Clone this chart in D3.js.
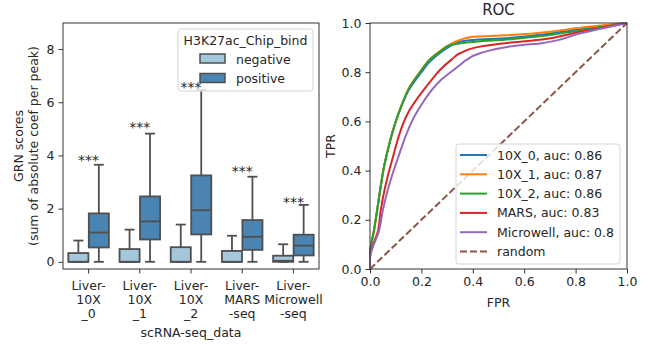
<html>
  <head>
    <meta charset="utf-8">
    <title>GRN scores and ROC</title>
    <script type="text/javascript" src="https://cdn.jsdelivr.net/npm/d3@7/dist/d3.min.js"></script>
    <style>
      body { margin: 0; background: #fff; }
      text { font-family: "DejaVu Sans", sans-serif; fill: #262626; }
    </style>
  </head>
  <body>
    <svg></svg>
    <script>
      'use strict';

      // ---- left panel data (box stats: [low whisker, q1, median, q3, high whisker])
      let categories = ["Liver-\n10X\n_0", "Liver-\n10X\n_1", "Liver-\n10X\n_2",
        "Liver-\nMARS\n-seq", "Liver-\nMicrowell\n-seq"];
      let hues = ["negative", "positive"];
      let negBoxes = [
        [0, 0, 0, 0.33, 0.80],
        [0, 0, 0, 0.48, 1.21],
        [0, 0, 0, 0.55, 1.40],
        [0, 0, 0, 0.41, 0.98],
        [0, 0, 0.04, 0.23, 0.66]
      ];
      let posBoxes = [
        [0, 0.54, 1.10, 1.82, 3.65],
        [0, 0.84, 1.52, 2.46, 4.82],
        [0, 1.03, 1.94, 3.25, 6.47],
        [0, 0.45, 0.94, 1.57, 3.20],
        [0, 0.24, 0.61, 1.02, 2.14]
      ];
      // height (in data units) of the "***" marks
      let starLevels = [3.96, 5.17, 6.70, 3.52, 2.37];
      let yTicksLeft = [0, 2, 4, 6, 8];

      // ---- right panel data (ROC curves)
      let rocNames = ["10X_0, auc: 0.86", "10X_1, auc: 0.87", "10X_2, auc: 0.86",
        "MARS, auc: 0.83", "Microwell, auc: 0.8"];
      let fpr10x0 = [0, 0, 0.016, 0.028, 0.06, 0.116, 0.155, 0.2, 0.232, 0.272, 0.31, 0.35, 0.402, 0.525, 0.661, 0.818, 1];
      let tpr10x0 = [0, 0.06, 0.159, 0.24, 0.443, 0.646, 0.735, 0.80, 0.842, 0.878, 0.905, 0.924, 0.931, 0.938, 0.952, 0.975, 1];
      let fpr10x1 = [0, 0, 0.016, 0.028, 0.06, 0.116, 0.155, 0.2, 0.232, 0.272, 0.31, 0.35, 0.402, 0.525, 0.661, 0.818, 1];
      let tpr10x1 = [0, 0.06, 0.159, 0.24, 0.443, 0.646, 0.742, 0.81, 0.852, 0.886, 0.912, 0.931, 0.944, 0.95, 0.96, 0.981, 1];
      let fpr10x2 = [0, 0, 0.016, 0.028, 0.06, 0.116, 0.155, 0.2, 0.232, 0.272, 0.31, 0.35, 0.42, 0.525, 0.661, 0.818, 1];
      let tpr10x2 = [0, 0.06, 0.159, 0.24, 0.443, 0.646, 0.74, 0.808, 0.85, 0.883, 0.91, 0.917, 0.925, 0.932, 0.946, 0.97, 1];
      let fprMars = [0, 0, 0.032, 0.042, 0.086, 0.154, 0.239, 0.272, 0.316, 0.35, 0.428, 0.525, 0.661, 0.818, 1];
      let tprMars = [0, 0.05, 0.159, 0.24, 0.443, 0.646, 0.768, 0.809, 0.85, 0.877, 0.904, 0.918, 0.932, 0.965, 1];
      let fprMicro = [0, 0, 0.036, 0.05, 0.106, 0.187, 0.28, 0.35, 0.375, 0.428, 0.595, 0.661, 0.818, 1];
      let tprMicro = [0, 0.04, 0.159, 0.24, 0.443, 0.646, 0.772, 0.829, 0.85, 0.877, 0.911, 0.917, 0.958, 1];
      let rocTicks = [0, 0.2, 0.4, 0.6, 0.8, 1.0];

      window.onload = function () {
        let w = 648;
        let h = 347;
        let svg = d3.select("svg").attr("width", w).attr("height", h);

        let hueColors = ["#a4c7dc", "#4a84b2"];
        let edge = "#4f4f4f";
        let fs = 12.5;

        // ================= left: box plot =================
        let L = { x0: 63, x1: 319, y0: 23, y1: 269 };
        let x = d3.scaleBand().domain(d3.range(categories.length)).range([L.x0, L.x1]);
        let y = d3.scaleLinear().domain([-0.27, 8.98]).range([L.y1, L.y0]);
        let boxW = x.bandwidth() * 0.4 * 0.98;

        let left = svg.append("g");

        // y axis
        let yAxis = left.append("g")
          .attr("transform", "translate(" + L.x0 + ",0)")
          .call(d3.axisLeft(y).tickValues(yTicksLeft).tickSize(4.5).tickPadding(4));
        // x axis
        let xAxis = left.append("g")
          .attr("transform", "translate(0," + L.y1 + ")")
          .call(d3.axisBottom(x).tickSize(4.5).tickFormat(""));

        [yAxis, xAxis].forEach(function (a) {
          a.select(".domain").remove();
          a.selectAll("line").attr("stroke", "#333");
          a.selectAll("text").style("font-size", fs + "px").attr("fill", "#262626");
        });

        // multi-line category labels
        categories.forEach(function (c, i) {
          let t = left.append("text")
            .attr("x", x(i) + x.bandwidth() / 2)
            .attr("y", 290)
            .attr("text-anchor", "middle")
            .style("font-size", fs + "px");
          c.split("\n").forEach(function (line, j) {
            t.append("tspan").attr("x", x(i) + x.bandwidth() / 2)
              .attr("dy", j === 0 ? 0 : 14).text(line);
          });
        });

        function drawBoxes(stats, hueIdx) {
          let off = (hueIdx === 0 ? -1 : 1) * x.bandwidth() * 0.2;
          let g = left.selectAll(null).data(stats).enter().append("g");
          let cx = function (d, i) { return x(i) + x.bandwidth() / 2 + off; };
          // whiskers
          g.append("line")
            .attr("x1", cx).attr("x2", cx)
            .attr("y1", function (d) { return y(d[3]); })
            .attr("y2", function (d) { return y(d[4]); })
            .attr("stroke", edge).attr("stroke-width", 1.8);
          g.append("line")
            .attr("x1", cx).attr("x2", cx)
            .attr("y1", function (d) { return y(d[1]); })
            .attr("y2", function (d) { return y(d[0]); })
            .attr("stroke", edge).attr("stroke-width", 1.8);
          // caps
          [0, 4].forEach(function (k) {
            g.append("line")
              .attr("x1", function (d, i) { return cx(d, i) - boxW / 4; })
              .attr("x2", function (d, i) { return cx(d, i) + boxW / 4; })
              .attr("y1", function (d) { return y(d[k]); })
              .attr("y2", function (d) { return y(d[k]); })
              .attr("stroke", edge).attr("stroke-width", 1.8);
          });
          // box
          g.append("rect")
            .attr("x", function (d, i) { return cx(d, i) - boxW / 2; })
            .attr("width", boxW)
            .attr("y", function (d) { return y(d[3]); })
            .attr("height", function (d) { return Math.max(0, y(d[1]) - y(d[3])); })
            .attr("fill", hueColors[hueIdx])
            .attr("stroke", edge).attr("stroke-width", 1.8);
          // median
          g.append("line")
            .attr("x1", function (d, i) { return cx(d, i) - boxW / 2; })
            .attr("x2", function (d, i) { return cx(d, i) + boxW / 2; })
            .attr("y1", function (d) { return y(d[2]); })
            .attr("y2", function (d) { return y(d[2]); })
            .attr("stroke", edge).attr("stroke-width", 1.8);
        }
        drawBoxes(negBoxes, 0);
        drawBoxes(posBoxes, 1);

        // frame
        left.append("rect")
          .attr("x", L.x0).attr("y", L.y0)
          .attr("width", L.x1 - L.x0).attr("height", L.y1 - L.y0)
          .attr("fill", "none").attr("stroke", "#333").attr("stroke-width", 1);

        // legend
        let lg = left.append("g").attr("transform", "translate(178,29)");
        lg.append("rect").attr("width", 135).attr("height", 62).attr("rx", 3)
          .attr("fill", "#fff").attr("fill-opacity", 0.8)
          .attr("stroke", "#d6d6d6");
        lg.append("text").attr("x", 67.5).attr("y", 15.5).attr("text-anchor", "middle")
          .style("font-size", fs + "px").text("H3K27ac_Chip_bind");
        hues.forEach(function (hname, i) {
          lg.append("rect").attr("x", 22).attr("y", 25 + i * 19.5)
            .attr("width", 25).attr("height", 9)
            .attr("fill", hueColors[i]).attr("stroke", edge).attr("stroke-width", 1.5);
          lg.append("text").attr("x", 58).attr("y", 34.5 + i * 19.5)
            .style("font-size", fs + "px").text(hname);
        });

        // significance marks, drawn over the legend
        left.selectAll(null).data(starLevels).enter().append("text")
          .attr("x", function (d, i) { return x(i) + x.bandwidth() / 2; })
          .attr("y", function (d) { return y(d) + 8; })
          .attr("text-anchor", "middle")
          .style("font-size", "14px")
          .text("***");

        // axis titles
        left.append("text").attr("text-anchor", "middle")
          .attr("transform", "translate(23,146) rotate(-90)")
          .style("font-size", fs + "px").text("GRN scores");
        left.append("text").attr("text-anchor", "middle")
          .attr("transform", "translate(38,146) rotate(-90)")
          .style("font-size", fs + "px").text("(sum of absolute coef per peak)");
        left.append("text").attr("x", 191).attr("y", 337).attr("text-anchor", "middle")
          .style("font-size", fs + "px").text("scRNA-seq_data");

        // ================= right: ROC =================
        let R = { x0: 370, x1: 627, y0: 23, y1: 269 };
        let rx = d3.scaleLinear().domain([0, 1]).range([R.x0, R.x1]);
        let ry = d3.scaleLinear().domain([0, 1]).range([R.y1, R.y0]);
        let right = svg.append("g");

        let rxAxis = right.append("g").attr("transform", "translate(0," + R.y1 + ")")
          .call(d3.axisBottom(rx).tickValues(rocTicks).tickFormat(d3.format(".1f")).tickSize(4.5).tickPadding(4));
        let ryAxis = right.append("g").attr("transform", "translate(" + R.x0 + ",0)")
          .call(d3.axisLeft(ry).tickValues(rocTicks).tickFormat(d3.format(".1f")).tickSize(4.5).tickPadding(4));
        [rxAxis, ryAxis].forEach(function (a) {
          a.select(".domain").remove();
          a.selectAll("line").attr("stroke", "#333");
          a.selectAll("text").style("font-size", fs + "px").attr("fill", "#262626");
        });

        let rocColors = ["#1f77b4", "#ff7f0e", "#2ca02c", "#d62728", "#9467bd"];
        let curves = [
          [fpr10x0, tpr10x0], [fpr10x1, tpr10x1], [fpr10x2, tpr10x2],
          [fprMars, tprMars], [fprMicro, tprMicro]
        ];

        // random guess line
        right.append("path")
          .attr("d", d3.line().x(function (d) { return rx(d); }).y(function (d) { return ry(d); })([0, 1]))
          .attr("fill", "none").attr("stroke", "#8c564b").attr("stroke-width", 2)
          .attr("stroke-dasharray", "7,3");

        curves.forEach(function (c, i) {
          let pts = c[0].map(function (f, k) { return [f, c[1][k]]; });
          right.append("path")
            .attr("d", d3.line()
              .x(function (d) { return rx(d[0]); })
              .y(function (d) { return ry(d[1]); })
              .curve(d3.curveMonotoneY)(pts))
            .attr("fill", "none").attr("stroke", rocColors[i]).attr("stroke-width", 2);
        });

        right.append("rect")
          .attr("x", R.x0).attr("y", R.y0)
          .attr("width", R.x1 - R.x0).attr("height", R.y1 - R.y0)
          .attr("fill", "none").attr("stroke", "#333").attr("stroke-width", 1);

        right.append("text").attr("x", (R.x0 + R.x1) / 2).attr("y", 15)
          .attr("text-anchor", "middle").style("font-size", "15px").text("ROC");
        right.append("text").attr("x", (R.x0 + R.x1) / 2).attr("y", 307)
          .attr("text-anchor", "middle").style("font-size", fs + "px").text("FPR");
        right.append("text").attr("text-anchor", "middle")
          .attr("transform", "translate(335,146) rotate(-90)")
          .style("font-size", fs + "px").text("TPR");

        // ROC legend
        let rl = right.append("g").attr("transform", "translate(456,144)");
        rl.append("rect").attr("width", 164).attr("height", 120).attr("rx", 3)
          .attr("fill", "#fff").attr("fill-opacity", 0.8).attr("stroke", "#d6d6d6");
        let legNames = rocNames.concat(["random"]);
        let legColors = rocColors.concat(["#8c564b"]);
        legNames.forEach(function (n, i) {
          let yy = 11 + i * 19.3;
          rl.append("line").attr("x1", 4).attr("x2", 31).attr("y1", yy).attr("y2", yy)
            .attr("stroke", legColors[i]).attr("stroke-width", 2)
            .attr("stroke-dasharray", i === 5 ? "7,3" : null);
          rl.append("text").attr("x", 41).attr("y", yy + 4.5)
            .style("font-size", fs + "px").text(n);
        });
      };
    </script>
  </body>
</html>
